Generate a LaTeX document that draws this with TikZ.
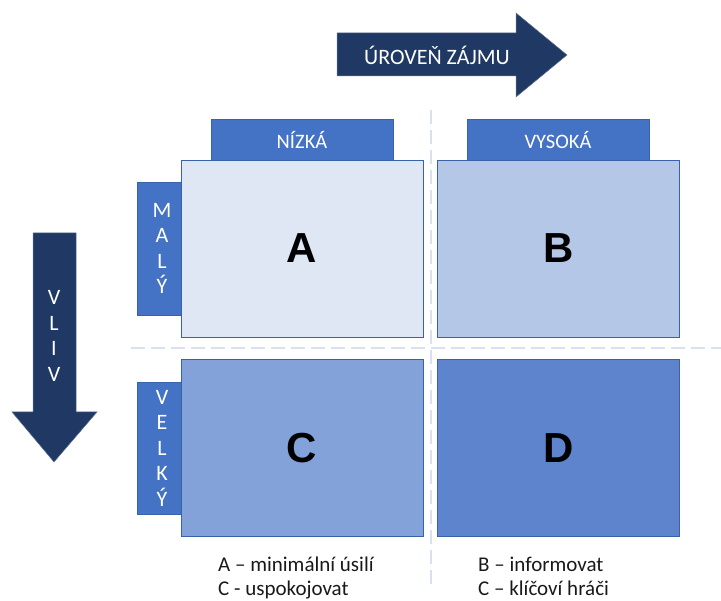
\documentclass[tikz,border=0pt]{standalone}
\usepackage{fontspec}
\setmainfont{Carlito}
\newfontfamily\bigletter{Liberation Sans}
\usetikzlibrary{positioning}

\definecolor{navy}{HTML}{203864}
\definecolor{tabblue}{HTML}{4472C4}
\definecolor{edgeblue}{HTML}{3A62A8}
\definecolor{fillA}{HTML}{DFE6F4}
\definecolor{fillB}{HTML}{B4C7E7}
\definecolor{fillC}{HTML}{84A2DA}
\definecolor{fillD}{HTML}{5D84CC}
\definecolor{guide}{HTML}{D9E1F1}

\tikzset{
  quad/.style={draw=edgeblue, line width=0.8pt, minimum width=242pt,
    minimum height=177pt, inner sep=0pt,
    font=\bigletter\fontsize{42}{42}\selectfont\bfseries, text=black},
  tabtop/.style={draw=edgeblue, line width=0.6pt, fill=tabblue,
    minimum width=182pt, minimum height=42pt, inner sep=0pt},
  tabside/.style={draw=edgeblue, line width=0.6pt, fill=tabblue,
    minimum width=44pt, inner sep=0pt},
  tablabel/.style={text=white, font=\fontsize{20.5}{20.5}\selectfont, inner sep=0pt},
  sidelabel/.style={text=white, font=\fontsize{22}{25.5}\selectfont,
    align=center, inner sep=0pt},
  bigarrow/.style={fill=navy, draw=navy!70!white, line width=0.5pt},
  guideline/.style={draw=guide, line width=1.8pt, dash pattern=on 14pt off 6pt},
  legend/.style={font=\fontsize{21}{24}\selectfont, align=left, anchor=north west,
    inner sep=0pt, text=black!90}
}

\begin{document}
\begin{tikzpicture}[x=1pt, y=-1pt]
  \useasboundingbox (0,0) rectangle (721,601);

  % guide lines between the quadrants
  \draw[guideline] (431,110) -- (431,590);
  \draw[guideline] (131,348) -- (721,348);

  % horizontal arrow: level of interest
  \draw[bigarrow] (337,33) -- (516,33) -- (516,13) -- (567,55) -- (516,97)
    -- (516,76) -- (337,76) -- cycle;
  \node[text=white, font=\fontsize{22}{22}\selectfont] (interest) at (437,55) {ÚROVEŇ ZÁJMU};

  % vertical arrow: influence
  \draw[bigarrow] (33,233) -- (76,233) -- (76,412) -- (97,412) -- (54,462)
    -- (12,412) -- (33,412) -- cycle;
  \node[sidelabel] (influence) at (54,336) {V\\L\\I\\V};

  % column tabs
  \node[tabtop] (low) at (302,140) {};
  \node[tablabel] at (low.center) {NÍZKÁ};
  \node[tabtop] (high) at (558,140) {};
  \node[tablabel] at (high.center) {VYSOKÁ};

  % row tabs
  \node[tabside, minimum height=133pt] (small) at (159,248.5) {};
  \node[sidelabel, xshift=3pt] at (small.center) {M\\A\\L\\Ý};
  \node[tabside, minimum height=132pt] (big) at (159,448) {};
  \node[sidelabel, xshift=3pt] at (big.center) {V\\E\\L\\K\\Ý};

  % quadrants
  \node[quad, fill=fillA] (A) at (302,248.5) {A};
  \node[quad, fill=fillB] (B) at (558.5,248.5) {B};
  \node[quad, fill=fillC] (C) at (302,448) {C};
  \node[quad, fill=fillD] (D) at (558.5,448) {D};

  % strategy legend
  \node[legend] (legendL) at (218,557) {A – minimální úsilí\\C - uspokojovat};
  \node[legend] (legendR) at (478,557) {B – informovat\\C – klíčoví hráči};
\end{tikzpicture}
\end{document}
